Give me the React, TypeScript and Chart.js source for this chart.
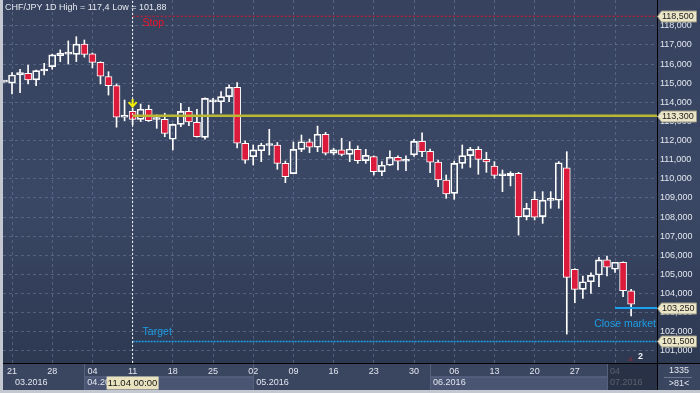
import React, { useEffect, useRef } from 'react';
import { Chart, registerables } from 'chart.js';

Chart.register(...registerables);

const FONT = '"Liberation Sans", Arial, Helvetica, sans-serif';

// Daily CHF/JPY candles, weekdays only. Index -1 = Fri 18.03.2016, index 0 = Mon 21.03.2016
const firstIndex = -1;
const opens = [
  115.06,
  115.00, 115.43, 115.52, 115.17, 115.64, 115.87, 116.44, 116.52, 116.51, 117.04,
  116.53, 116.09, 115.34, 114.87, 113.22, 113.53, 113.11, 113.64, 113.10, 113.11,
  112.07, 112.85, 113.53, 112.96, 112.17, 114.02, 114.03, 114.30, 114.79, 111.86,
  111.16, 111.47, 111.74, 111.77, 110.81, 110.27, 111.54, 111.94, 111.65, 112.33,
  111.34, 111.51, 111.28, 111.54, 110.95, 111.16, 110.37, 110.71, 111.13, 110.92,
  111.25, 111.96, 111.44, 110.87, 109.94, 109.24, 110.81, 111.21, 111.54, 111.02,
  110.67, 110.16, 110.15, 110.29, 108.02, 108.93, 108.02, 108.87, 108.88, 110.58,
  105.27, 104.22, 104.62, 104.97, 105.76, 105.27, 105.64, 104.15,
];
const highs = [
  115.10,
  115.55, 115.73, 115.95, 115.68, 116.04, 116.52, 116.74, 117.21, 117.43, 117.26,
  116.58, 116.12, 115.60, 114.96, 114.12, 113.70, 113.91, 113.85, 113.34, 113.43,
  112.87, 113.95, 113.74, 113.64, 114.24, 114.21, 114.56, 114.91, 115.03, 111.98,
  111.77, 111.86, 112.59, 111.90, 110.93, 111.93, 112.29, 112.08, 112.76, 112.43,
  111.60, 112.12, 111.94, 111.72, 111.54, 111.20, 110.90, 111.46, 111.20, 111.20,
  112.07, 112.41, 111.56, 110.98, 110.20, 110.93, 111.77, 111.65, 111.68, 111.39,
  110.90, 110.46, 110.37, 110.34, 108.72, 109.33, 109.33, 109.33, 110.90, 111.42,
  105.30, 104.92, 105.09, 105.90, 105.96, 105.64, 105.66, 104.22,
];
const lows = [
  115.06,
  114.44, 114.50, 114.96, 114.87, 115.43, 115.73, 116.13, 116.00, 116.13, 116.36,
  115.80, 114.96, 114.38, 112.70, 113.04, 112.82, 112.99, 113.00, 112.64, 112.20,
  111.51, 112.73, 112.78, 112.18, 112.07, 113.43, 113.43, 114.03, 111.62, 110.81,
  110.72, 110.90, 111.25, 110.50, 109.80, 110.27, 111.42, 111.37, 111.42, 111.25,
  111.25, 111.20, 110.90, 110.81, 110.81, 110.20, 110.17, 110.70, 110.46, 110.43,
  111.17, 111.16, 110.32, 109.59, 108.98, 108.93, 110.55, 110.60, 110.24, 110.34,
  110.03, 109.33, 109.63, 107.06, 107.85, 107.85, 107.67, 108.46, 108.46, 101.88,
  103.52, 103.75, 104.01, 104.36, 104.92, 105.10, 103.84, 102.83,
];
const closes = [
  115.10,
  115.43, 115.55, 115.17, 115.66, 115.68, 116.48, 116.57, 116.55, 117.04, 116.51,
  116.09, 115.37, 114.87, 113.22, 113.32, 113.11, 113.64, 113.04, 113.13, 112.38,
  112.85, 113.53, 112.97, 112.20, 114.21, 114.05, 114.30, 114.79, 111.86, 110.97,
  111.51, 111.77, 111.77, 110.81, 110.11, 111.54, 111.94, 111.65, 112.33, 111.34,
  111.51, 111.28, 111.56, 110.95, 111.23, 110.37, 110.71, 111.13, 110.92, 110.95,
  111.96, 111.42, 110.87, 109.94, 109.21, 110.81, 111.21, 111.54, 111.02, 110.88,
  110.18, 110.18, 110.29, 108.02, 108.46, 107.99, 108.89, 108.90, 110.84, 104.85,
  104.22, 104.62, 104.95, 105.76, 105.38, 105.64, 104.15, 103.44,
];

const weekTickIndex = [0, 5, 10, 15, 20, 25, 30, 35, 40, 45, 50, 55, 60, 65, 70, 75];
const weekTickLabels = ['21', '28', '04', '11', '18', '25', '02', '09', '16', '23', '30', '06', '13', '20', '27', '04'];
const monthStartIndex = [-12, 9, 30, 52, 74];
const monthLabels = ['03.2016', '04.2016', '05.2016', '06.2016', '07.2016'];
const priceTicks = [101, 102, 103, 104, 105, 106, 107, 108, 109, 110, 111, 112, 113, 114, 115, 116, 117, 118];

const titleText = 'CHF/JPY 1D High = 117,4 Low = 101,88';
const stopLevel = 118.5;
const entryLevel = 113.3;
const closeLevel = 103.25;
const targetLevel = 101.5;
const markerIndex = 15;
const markerLabel = '11.04 00:00';
const closeStartIndex = 75;
const counterTop = '1335';
const counterBottom = '>81<';
const badgeText = '2';

const X_MIN = -1.12;
const X_MAX = 80.22;
const Y_MIN = 100.37;
const Y_MAX = 119.35;

const RED = '#dc1a3c';
const GRID = 'rgba(105,120,152,0.6)';
const TEXT = '#e2e6ee';
const CYAN = '#1c9fe6';

const fmtPrice = (v: number) => v.toFixed(3).replace('.', ',');

const candleIndex = opens.map((_, i) => i + firstIndex);

const decorPlugin = {
  id: 'decor',
  beforeDraw(chart: any) {
    const { ctx, chartArea: ca } = chart;
    const W = chart.width;
    const H = chart.height;
    ctx.save();
    ctx.fillStyle = '#3a4560';
    ctx.fillRect(0, 0, W, H);
    const g = ctx.createLinearGradient(0, 0, 0, ca.bottom);
    g.addColorStop(0, '#36425e');
    g.addColorStop(0.55, '#3b4865');
    g.addColorStop(1, '#2d3851');
    ctx.fillStyle = g;
    ctx.fillRect(0, 0, W, ca.bottom);
    ctx.restore();
  },
  afterDraw(chart: any) {
    const { ctx, chartArea: ca, scales } = chart;
    const xs = scales.x;
    const ys = scales.y;
    const W = chart.width;
    ctx.save();

    // month row
    const rowTop = ca.bottom + 13.5;
    const rowBottom = 390;
    ctx.font = `9px ${FONT}`;
    ctx.textBaseline = 'middle';
    ctx.textAlign = 'left';
    for (let k = 0; k < monthLabels.length; k++) {
      let s = xs.getPixelForValue(monthStartIndex[k]);
      let e = k + 1 < monthLabels.length ? xs.getPixelForValue(monthStartIndex[k + 1]) : ca.right;
      const sVisible = s > ca.left;
      s = Math.max(s, ca.left);
      e = Math.min(e, ca.right);
      if (k % 2 === 1) {
        ctx.fillStyle = '#4a5574';
        ctx.fillRect(s, rowTop, e - s, rowBottom - rowTop);
        ctx.fillStyle = '#5e6a88';
        ctx.fillRect(s, rowTop, e - s, 1);
      }
      if (sVisible) {
        ctx.fillStyle = '#56617e';
        ctx.fillRect(Math.round(s), ca.bottom + 1, 1, rowBottom - ca.bottom - 1);
      }
      ctx.fillStyle = TEXT;
      ctx.fillText(monthLabels[k], Math.max(s + 3, 15), rowTop + 6);
    }

    // dimmed last section
    const lastS = xs.getPixelForValue(monthStartIndex[monthStartIndex.length - 1]) + 1;
    ctx.fillStyle = 'rgba(33,42,60,0.72)';
    ctx.fillRect(lastS, ca.bottom + 1, ca.right - lastS, rowBottom - ca.bottom - 1);

    // axis frame lines
    ctx.fillStyle = '#000';
    ctx.fillRect(0, ca.bottom, W, 1);
    ctx.fillRect(ca.right, 0, 1, rowBottom);

    // marker date label
    const mx = xs.getPixelForValue(markerIndex);
    ctx.fillStyle = '#e8e2bf';
    ctx.fillRect(mx - 26, rowTop, 52, 13);
    ctx.fillStyle = '#141414';
    ctx.textAlign = 'center';
    ctx.font = `9.5px ${FONT}`;
    ctx.fillText(markerLabel, mx, rowTop + 6.5);

    // price tags
    const tag = (v: number) => {
      const yy = Math.round(ys.getPixelForValue(v)) + 0.5;
      ctx.beginPath();
      ctx.moveTo(ca.right + 0.5, yy);
      ctx.lineTo(ca.right + 4.5, yy - 5.5);
      ctx.lineTo(696.5, yy - 5.5);
      ctx.lineTo(696.5, yy + 5.5);
      ctx.lineTo(ca.right + 4.5, yy + 5.5);
      ctx.closePath();
      ctx.fillStyle = '#ebe6c8';
      ctx.fill();
      ctx.strokeStyle = '#9c9a86';
      ctx.lineWidth = 1;
      ctx.stroke();
      ctx.fillStyle = '#1b1b1b';
      ctx.textAlign = 'left';
      ctx.font = `9px ${FONT}`;
      ctx.fillText(fmtPrice(v), ca.right + 5, yy + 0.5);
    };
    tag(stopLevel);
    tag(entryLevel);
    tag(closeLevel);
    tag(targetLevel);

    // title
    ctx.textAlign = 'left';
    ctx.fillStyle = '#e6e9ef';
    ctx.font = `9px ${FONT}`;
    ctx.fillText(titleText, 5, 7.5);

    // annotations
    ctx.font = `10.5px ${FONT}`;
    ctx.fillStyle = '#f0142a';
    ctx.fillText('Stop', mx + 10, ys.getPixelForValue(stopLevel) + 7);
    ctx.fillStyle = CYAN;
    ctx.fillText('Target', mx + 10, ys.getPixelForValue(targetLevel) - 9.5);
    ctx.textAlign = 'right';
    ctx.fillText('Close market', ca.right - 1, ys.getPixelForValue(closeLevel) + 16.5);

    // yellow arrow above marker candle
    const ay = ys.getPixelForValue(highs[markerIndex - firstIndex]);
    ctx.strokeStyle = '#f2ee00';
    ctx.lineWidth = 2;
    ctx.beginPath();
    ctx.moveTo(mx, ay - 9);
    ctx.lineTo(mx, ay - 2);
    ctx.moveTo(mx - 4, ay - 6);
    ctx.lineTo(mx, ay - 1.5);
    ctx.lineTo(mx + 4, ay - 6);
    ctx.stroke();

    // badge
    ctx.fillStyle = '#5c3448';
    ctx.beginPath();
    ctx.moveTo(627.5, 361);
    ctx.lineTo(630.5, 356);
    ctx.lineTo(633.5, 361);
    ctx.closePath();
    ctx.fill();
    ctx.fillStyle = '#f0f2f6';
    ctx.font = `bold 9px ${FONT}`;
    ctx.textAlign = 'left';
    ctx.fillText(badgeText, 638, 357);

    // counters bottom right
    ctx.font = `9px ${FONT}`;
    ctx.textAlign = 'center';
    ctx.fillStyle = TEXT;
    ctx.fillText(counterTop, 679, 371);
    ctx.fillText(counterBottom, 679, 383.5);
    ctx.fillStyle = '#6c7690';
    ctx.fillRect(664, 377, 28, 1);

    // outer border
    ctx.fillStyle = '#c4c8d0';
    ctx.fillRect(0, 0, 3, chart.height);
    ctx.fillRect(0, 390, W, 3);
    ctx.restore();
  },
};

export default function App() {
  const ref = useRef<HTMLCanvasElement>(null);
  useEffect(() => {
    const canvas = ref.current;
    if (!canvas) return;
    Chart.defaults.font.family = FONT;

    const bodyColors = opens.map((o, i) => (closes[i] >= o ? 'rgba(0,0,0,0)' : RED));
    const bodies = opens.map((o, i) => ({ x: candleIndex[i], y: [o, closes[i]] }));
    const upperWicks = opens.map((o, i) => ({ x: candleIndex[i], y: [Math.max(o, closes[i]), highs[i]] }));
    const lowerWicks = opens.map((o, i) => ({ x: candleIndex[i], y: [lows[i], Math.min(o, closes[i])] }));

    const levelLine = (y: number, from: number, color: string, width: number, dash: number[]) => ({
      type: 'line' as const,
      data: [{ x: from, y }, { x: X_MAX + 2, y }],
      borderColor: color,
      borderWidth: width,
      borderDash: dash,
      pointRadius: 0,
      order: -1,
      clip: 0,
    });

    const chart = new Chart(canvas, {
      type: 'bar',
      data: {
        datasets: [
          {
            type: 'bar',
            data: upperWicks as any,
            backgroundColor: '#ffffff',
            borderWidth: 0,
            barThickness: 1,
            grouped: false,
            order: 2,
          },
          {
            type: 'bar',
            data: lowerWicks as any,
            backgroundColor: '#ffffff',
            borderWidth: 0,
            barThickness: 1,
            grouped: false,
            order: 2,
          },
          {
            type: 'bar',
            data: bodies as any,
            backgroundColor: bodyColors,
            borderColor: '#ffffff',
            borderWidth: 1,
            borderSkipped: false,
            barThickness: 7,
            minBarLength: 2,
            grouped: false,
            order: 1,
          },
          levelLine(stopLevel, markerIndex, '#e3172a', 1, [2, 2]) as any,
          levelLine(entryLevel, markerIndex, '#b8b834', 2.5, []) as any,
          levelLine(targetLevel, markerIndex, CYAN, 1.5, [2, 1]) as any,
          levelLine(closeLevel, closeStartIndex, '#1aa2f0', 2, []) as any,
          {
            type: 'line',
            data: [{ x: markerIndex, y: Y_MIN }, { x: markerIndex, y: Y_MAX }],
            borderColor: '#ffffff',
            borderWidth: 1,
            borderDash: [2, 2],
            pointRadius: 0,
            order: -2,
          } as any,
        ],
      },
      options: {
        responsive: false,
        devicePixelRatio: 1,
        animation: false,
        events: [],
        layout: { padding: { left: 3, top: 0, right: 0, bottom: 0 } },
        plugins: { legend: { display: false }, tooltip: { enabled: false } },
        scales: {
          x: {
            type: 'linear',
            position: 'bottom',
            min: X_MIN,
            max: X_MAX,
            offset: false,
            afterBuildTicks: (s: any) => {
              s.ticks = weekTickIndex.map((v) => ({ value: v }));
            },
            afterFit: (s: any) => {
              s.height = 30;
              s.paddingLeft = 0;
              s.paddingRight = 0;
            },
            ticks: {
              autoSkip: false,
              maxRotation: 0,
              minRotation: 0,
              padding: 3,
              color: TEXT,
              font: { size: 9, family: FONT },
              callback: (_v: any, i: number) => weekTickLabels[i],
            },
            grid: { color: GRID, lineWidth: 1, drawTicks: false, offset: false },
            border: { display: true, color: '#000000', width: 1, dash: [3, 3] },
          },
          y: {
            type: 'linear',
            position: 'right',
            min: Y_MIN,
            max: Y_MAX,
            beginAtZero: false,
            afterBuildTicks: (s: any) => {
              s.ticks = priceTicks.map((v) => ({ value: v }));
            },
            afterFit: (s: any) => {
              s.width = 43;
              s.paddingTop = 0;
              s.paddingBottom = 0;
            },
            ticks: {
              padding: 3,
              color: TEXT,
              font: { size: 9, family: FONT },
              callback: (v: any) => fmtPrice(Number(v)),
            },
            grid: { color: GRID, lineWidth: 1, drawTicks: false },
            border: { display: true, color: '#000000', width: 1, dash: [3, 3] },
          },
        },
      },
      plugins: [decorPlugin],
    } as any);
    return () => chart.destroy();
  }, []);

  return (
    <div style={{ position: 'fixed', left: 0, top: 0, width: 700, height: 393, background: '#3a4560' }}>
      <canvas ref={ref} width={700} height={393} style={{ display: 'block', width: 700, height: 393 }} />
    </div>
  );
}
